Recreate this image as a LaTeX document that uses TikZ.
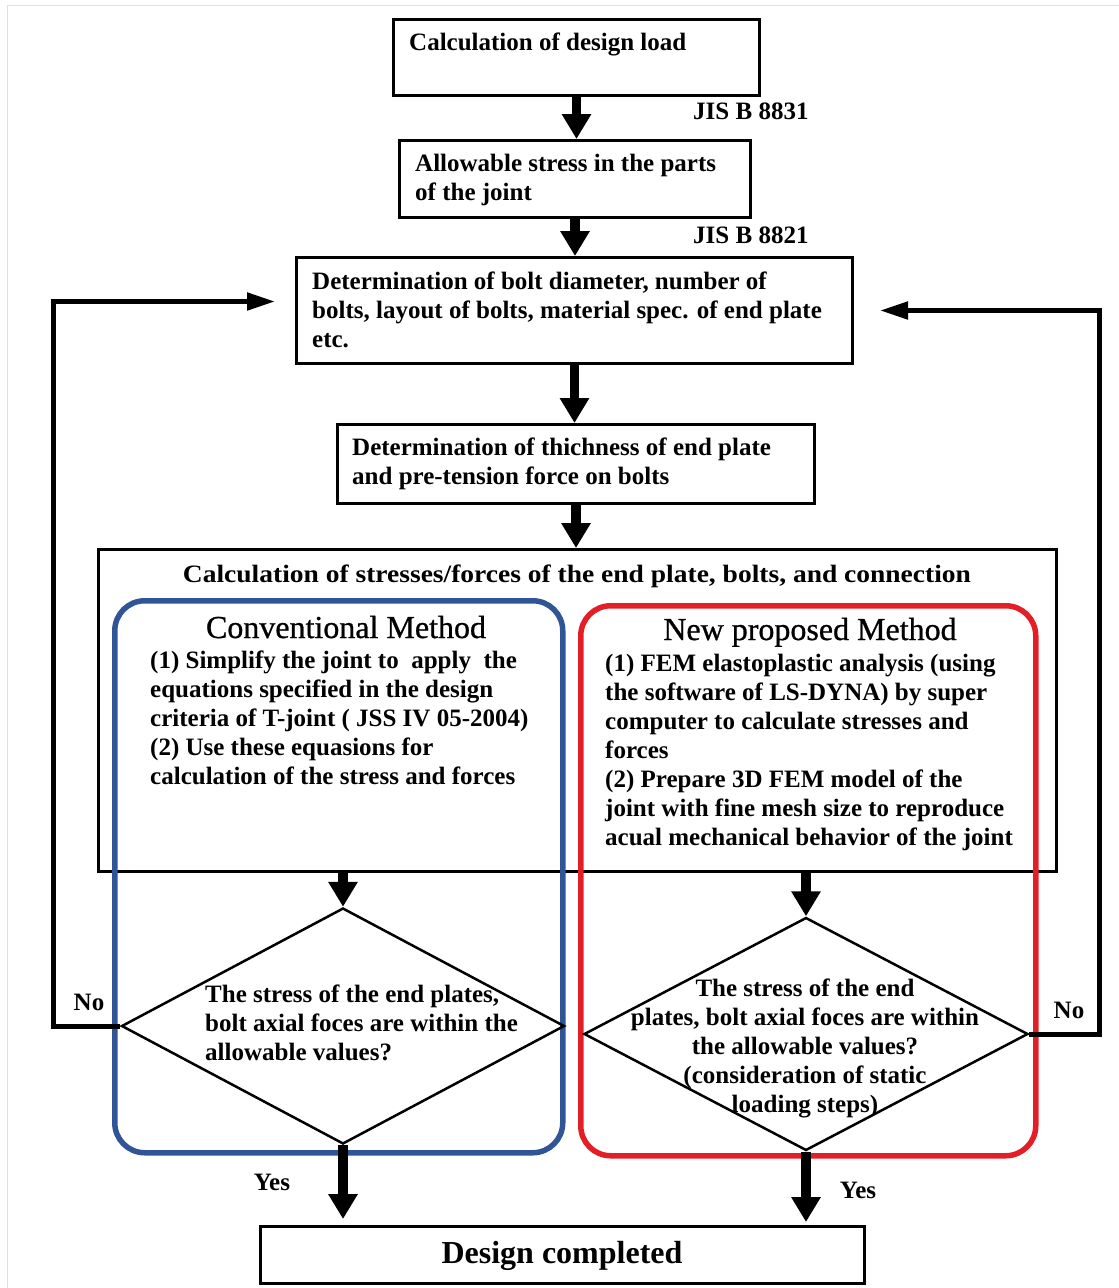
\documentclass[tikz,border=0pt]{standalone}
\usepackage{fontspec}
\setmainfont{Liberation Serif}
\usetikzlibrary{arrows.meta,shapes.geometric}
\newcommand\mytxtfont{\fontsize{25}{29}\selectfont\bfseries}
\newcommand\myheadfont{\fontsize{32}{36}\selectfont\addfontfeature{FakeBold=0.8}}
\newcommand\mybigfont{\fontsize{32}{36}\selectfont\bfseries}
\definecolor{myblue}{HTML}{2F5597}
\definecolor{myred}{HTML}{E41E26}
\begin{document}
\begin{tikzpicture}[x=1pt,y=-1pt,
  box/.style={draw, line width=3pt, inner sep=0pt, anchor=north west},
  txt/.style={inner sep=0pt, anchor=north west, align=left, font=\mytxtfont},
  lbl/.style={inner sep=0pt, anchor=base, font=\mytxtfont},
  bigarrow/.style={line width=9.5pt, -{Triangle[width=28pt,length=25pt]}},
  looparrow/.style={line width=5pt, -{Triangle[width=17pt,length=28pt]}},
  dia/.style={draw, diamond, line width=2.5pt, inner sep=0pt},
  method/.style={draw, line width=5.5pt, rounded corners=30pt, inner sep=0pt, anchor=north west},
]
\useasboundingbox (0,0) rectangle (1119,1288);
\draw[gray!25, line width=1pt] (7,1288) -- (7,5) -- (1119,5);

% boxes
\node[box, minimum width=366pt, minimum height=76pt] (b1) at (392,18) {};
\node[box, minimum width=351pt, minimum height=77pt] (b2) at (398,139) {};
\node[box, minimum width=556pt, minimum height=106pt] (b3) at (295,256) {};
\node[box, minimum width=477pt, minimum height=79pt] (b4) at (336,423) {};
\node[box, minimum width=958pt, minimum height=322pt] (big) at (97,548) {};
\node[method, draw=myblue, minimum width=448pt, minimum height=552pt] (conv) at (112,598) {};
\node[method, draw=myred, minimum width=455pt, minimum height=550pt] (newm) at (578,603) {};
\node[box, minimum width=604pt, minimum height=57pt] (fin) at (259,1225) {};
\node[dia, minimum width=443pt, minimum height=236pt] (diaL) at (343,1026) {};
\node[dia, minimum width=444pt, minimum height=233pt] (diaR) at (806,1034) {};

% texts
\node[txt] (t1) at (409,33) {Calculation of design load};
\node[txt] (t2) at (415,154) {Allowable stress in the parts\\of the joint};
\node[txt] (t3) at (312,272) {Determination of bolt diameter, number of\\bolts, layout of bolts, material spec. of end plate\\etc.};
\node[txt] (t4) at (352,438) {Determination of thichness of end plate\\and pre-tension force on bolts};
\node[lbl, xscale=1.1] (title) at (577,582) {Calculation of stresses/forces of the end plate, bolts, and connection};
\node[inner sep=0pt, anchor=base, font=\myheadfont] (convh) at (346,638) {Conventional Method};
\node[inner sep=0pt, anchor=base, font=\myheadfont] (newh) at (810,640) {New proposed Method};
\node[txt] (convt) at (150,651) {(1) Simplify the joint to \ apply \ the\\equations specified in the design\\criteria of T-joint ( JSS IV 05-2004)\\(2) Use these equasions for\\calculation of the stress and forces};
\node[txt] (newt) at (605,654) {(1) FEM elastoplastic analysis (using\\the software of LS-DYNA) by super\\computer to calculate stresses and\\forces\\(2) Prepare 3D FEM model of the\\joint with fine mesh size to reproduce\\acual mechanical behavior of the joint};
\node[txt] (dLt) at (205,985) {The stress of the end plates,\\bolt axial foces are within the\\allowable values?};
\node[txt, anchor=north, align=center] (dRt) at (805,979) {The stress of the end\\plates, bolt axial foces are within\\the allowable values?\\(consideration of static\\loading steps)};
\node[lbl, anchor=base west] (jis1) at (693,119) {JIS B 8831};
\node[lbl, anchor=base west] (jis2) at (693,243) {JIS B 8821};
\node[lbl] (noL) at (89,1010) {No};
\node[lbl] (noR) at (1069,1018) {No};
\node[lbl] (yesL) at (272,1190) {Yes};
\node[lbl] (yesR) at (858,1198) {Yes};
\node[inner sep=0pt, anchor=base, font=\mybigfont] (fint) at (562,1263) {Design completed};

% connectors
\draw[bigarrow] (b1.south) -- (b1.south |- b2.north);
\draw[bigarrow] (b2.south) -- (b2.south |- b3.north);
\draw[bigarrow] (b3.south) -- (b3.south |- b4.north);
\draw[bigarrow] (b4.south) -- (b4.south |- big.north);
\draw[bigarrow] (diaL.north |- big.south) -- (diaL.north);
\draw[bigarrow] (diaR.north |- big.south) -- (diaR.north);
\draw[bigarrow, shorten >=6pt] (diaL.south) -- (diaL.south |- fin.north);
\draw[bigarrow, shorten >=3pt] (diaR.south) -- (diaR.south |- fin.north);
\draw[looparrow, shorten >=20pt] (diaL.west) -- ++(-67,0) |- ([yshift=9pt]b3.west);
\draw[looparrow, shorten >=26pt] (diaR.east) -- ++(70,0) |- (b3.east);
\end{tikzpicture}
\end{document}
